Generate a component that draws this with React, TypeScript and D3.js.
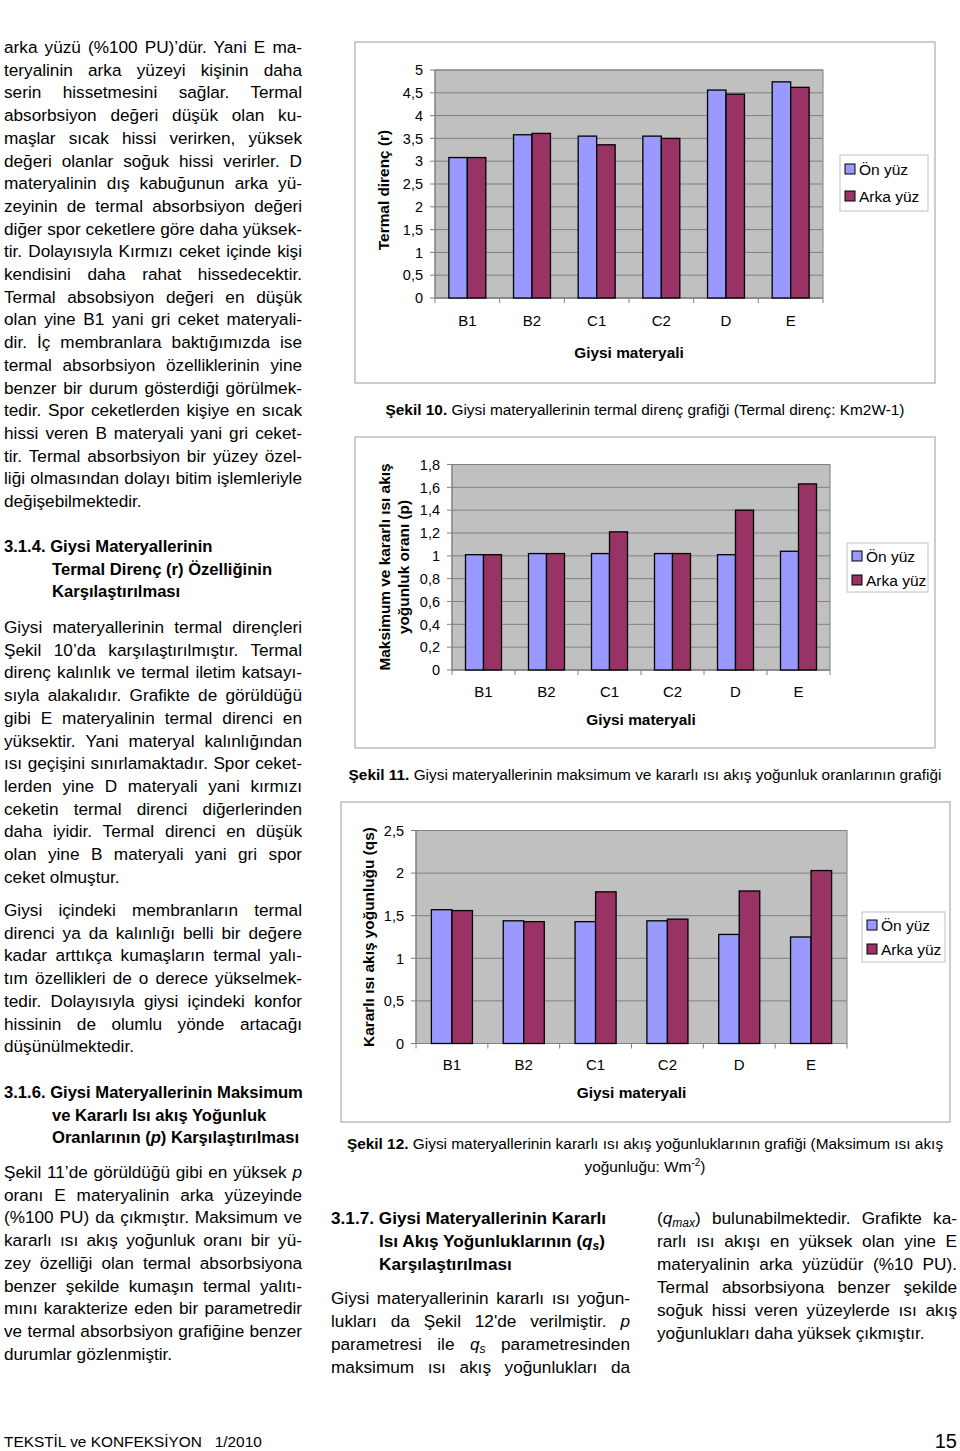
import React from "react";
import * as d3 from "d3";

// ---------- DATA ----------
const categories = ["B1", "B2", "C1", "C2", "D", "E"];
const seriesNames = ["Ön yüz", "Arka yüz"];
const seriesColors = ["#9999FF", "#993366"];

// Şekil 10 – Termal direnç (r)
const resistanceFront = [3.08, 3.58, 3.55, 3.55, 4.56, 4.74];
const resistanceBack = [3.08, 3.61, 3.36, 3.5, 4.47, 4.62];
const resistanceTicks = [0, 0.5, 1, 1.5, 2, 2.5, 3, 3.5, 4, 4.5, 5];
const resistanceTickLabels = ["0", "0,5", "1", "1,5", "2", "2,5", "3", "3,5", "4", "4,5", "5"];

// Şekil 11 – Maksimum ve kararlı ısı akış yoğunluk oranı (p)
const ratioFront = [1.01, 1.02, 1.02, 1.02, 1.01, 1.04];
const ratioBack = [1.01, 1.02, 1.21, 1.02, 1.4, 1.63];
const ratioTicks = [0, 0.2, 0.4, 0.6, 0.8, 1, 1.2, 1.4, 1.6, 1.8];
const ratioTickLabels = ["0", "0,2", "0,4", "0,6", "0,8", "1", "1,2", "1,4", "1,6", "1,8"];

// Şekil 12 – Kararlı ısı akış yoğunluğu (qs)
const fluxFront = [1.57, 1.44, 1.43, 1.44, 1.28, 1.25];
const fluxBack = [1.56, 1.43, 1.78, 1.46, 1.79, 2.03];
const fluxTicks = [0, 0.5, 1, 1.5, 2, 2.5];
const fluxTickLabels = ["0", "0,5", "1", "1,5", "2", "2,5"];

// ---------- TEXT ----------
const colA1 = [
  "arka yüzü (%100 PU)’dür. Yani E ma-",
  "teryalinin arka yüzeyi kişinin daha",
  "serin hissetmesini sağlar. Termal",
  "absorbsiyon değeri düşük olan ku-",
  "maşlar sıcak hissi verirken, yüksek",
  "değeri olanlar soğuk hissi verirler. D",
  "materyalinin dış kabuğunun arka yü-",
  "zeyinin de termal absorbsiyon değeri",
  "diğer spor ceketlere göre daha yüksek-",
  "tir. Dolayısıyla Kırmızı ceket içinde kişi",
  "kendisini daha rahat hissedecektir.",
  "Termal absobsiyon değeri en düşük",
  "olan yine B1 yani gri ceket materyali-",
  "dir. İç membranlara baktığımızda ise",
  "termal absorbsiyon özelliklerinin yine",
  "benzer bir durum gösterdiği görülmek-",
  "tedir. Spor ceketlerden kişiye en sıcak",
  "hissi veren B materyali yani gri ceket-",
  "tir. Termal absorbsiyon bir yüzey özel-",
  "liği olmasından dolayı bitim işlemleriyle",
  "değişebilmektedir.",
];
const head314 = ["3.1.4. Giysi Materyallerinin", "Termal Direnç (r) Özelliğinin", "Karşılaştırılması"];
const colA2 = [
  "Giysi materyallerinin termal dirençleri",
  "Şekil 10’da karşılaştırılmıştır. Termal",
  "direnç kalınlık ve termal iletim katsayı-",
  "sıyla alakalıdır. Grafikte de görüldüğü",
  "gibi E materyalinin termal direnci en",
  "yüksektir. Yani materyal kalınlığından",
  "ısı geçişini sınırlamaktadır. Spor ceket-",
  "lerden yine D materyali yani kırmızı",
  "ceketin termal direnci diğerlerinden",
  "daha iyidir. Termal direnci en düşük",
  "olan yine B materyali yani gri spor",
  "ceket olmuştur.",
];
const colA3 = [
  "Giysi içindeki membranların termal",
  "direnci ya da kalınlığı belli bir değere",
  "kadar arttıkça kumaşların termal yalı-",
  "tım özellikleri de o derece yükselmek-",
  "tedir. Dolayısıyla giysi içindeki konfor",
  "hissinin de olumlu yönde artacağı",
  "düşünülmektedir.",
];
const head316 = ["3.1.6. Giysi Materyallerinin Maksimum", "ve Kararlı Isı akış Yoğunluk", "Oranlarının ({i:p}) Karşılaştırılması"];
const colA4 = [
  "Şekil 11’de görüldüğü gibi en yüksek {i:p}",
  "oranı E materyalinin arka yüzeyinde",
  "(%100 PU) da çıkmıştır. Maksimum ve",
  "kararlı ısı akış yoğunluk oranı bir yü-",
  "zey özelliği olan termal absorbsiyona",
  "benzer şekilde kumaşın termal yalıtı-",
  "mını karakterize eden bir parametredir",
  "ve termal absorbsiyon grafiğine benzer",
  "durumlar gözlenmiştir.",
];
const head317 = ["3.1.7. Giysi Materyallerinin Kararlı", "Isı Akış Yoğunluklarının ({i:q}{sub:s})", "Karşılaştırılması"];
const colB1 = [
  "Giysi materyallerinin kararlı ısı yoğun-",
  "lukları da Şekil 12'de verilmiştir. {i:p}",
  "parametresi ile {i:q}{sub:s} parametresinden",
  "maksimum ısı akış yoğunlukları da",
];
const colC1 = [
  "({i:q}{sub:max}) bulunabilmektedir. Grafikte ka-",
  "rarlı ısı akışı en yüksek olan yine E",
  "materyalinin arka yüzüdür (%10 PU).",
  "Termal absorbsiyona benzer şekilde",
  "soğuk hissi veren yüzeylerde ısı akış",
  "yoğunlukları daha yüksek çıkmıştır.",
];

const FONT = "'Liberation Sans', Arial, Helvetica, sans-serif";

function renderMarkup(s: string) {
  const parts = s.split(/(\{(?:i|sub|sup|b):[^}]*\})/);
  return parts.map((p, i) => {
    const m = p.match(/^\{(i|sub|sup|b):([^}]*)\}$/);
    if (!m) return <React.Fragment key={i}>{p}</React.Fragment>;
    const [, kind, txt] = m;
    if (kind === "i") return <i key={i}>{txt}</i>;
    if (kind === "b") return <b key={i}>{txt}</b>;
    if (kind === "sub")
      return (
        <sub key={i} style={{ fontStyle: "italic", fontSize: "0.7em", verticalAlign: "-0.25em", lineHeight: 0 }}>
          {txt}
        </sub>
      );
    return (
      <sup key={i} style={{ fontSize: "0.7em", lineHeight: 0 }}>
        {txt}
      </sup>
    );
  });
}

function Para({ lines, x, y0, width, step = 22.7, lastLeft = true, bold = false, size = 17.2, indent = 0 }: any) {
  return (
    <>
      {lines.map((ln: string, i: number) => {
        const isLast = i === lines.length - 1;
        const justify = !(isLast && lastLeft) && width > 0;
        const left = x + (i > 0 ? indent : 0);
        return (
          <div
            key={i}
            style={{
              position: "absolute",
              left,
              top: y0 + i * step - 12,
              width: width > 0 ? width - (i > 0 ? indent : 0) : undefined,
              height: 24,
              lineHeight: "24px",
              fontFamily: FONT,
              fontSize: size,
              fontWeight: bold ? "bold" : "normal",
              textAlign: justify ? "justify" : "left",
              textAlignLast: justify ? "justify" : "left",
              whiteSpace: width > 0 ? "normal" : "nowrap",
              color: "#000",
            }}
          >
            {renderMarkup(ln)}
          </div>
        );
      })}
    </>
  );
}

type ChartProps = {
  frame: { x: number; y: number; w: number; h: number };
  plot: { l: number; r: number; t: number; b: number };
  max: number;
  ticks: number[];
  tickLabels: string[];
  front: number[];
  back: number[];
  yTitle: string[];
  yTitleX: number[];
  yTitleY: number;
  xTitleY: number;
  labelY: number;
  legend: { x: number; y: number; w: number; h: number; rows: number[] };
};

function BarChart(p: ChartProps) {
  const { frame, plot, legend } = p;
  const x0 = d3.scaleBand<string>().domain(categories).range([plot.l, plot.r]).padding(0);
  const x1 = d3
    .scaleBand<string>()
    .domain(seriesNames)
    .range([0, x0.bandwidth()])
    .paddingInner(0)
    .paddingOuter(0.75);
  const y = d3.scaleLinear().domain([0, p.max]).range([plot.b, plot.t]);
  const values = [p.front, p.back];
  const grid = "#808080";
  return (
    <g fontFamily={FONT}>
      <rect x={frame.x} y={frame.y} width={frame.w} height={frame.h} fill="#fff" stroke="#bdbdbd" strokeWidth={1.5} />
      <rect x={plot.l} y={plot.t} width={plot.r - plot.l} height={plot.b - plot.t} fill="#C0C0C0" stroke={grid} strokeWidth={1} />
      {p.ticks.map((t, i) => (
        <line key={"g" + i} x1={plot.l} x2={plot.r} y1={y(t)} y2={y(t)} stroke={grid} strokeWidth={1} />
      ))}
      {/* y axis */}
      <line x1={plot.l} x2={plot.l} y1={plot.t} y2={plot.b} stroke={grid} strokeWidth={1} />
      {p.ticks.map((t, i) => (
        <line key={"yt" + i} x1={plot.l - 5} x2={plot.l} y1={y(t)} y2={y(t)} stroke={grid} strokeWidth={1} />
      ))}
      {/* x axis */}
      <line x1={plot.l} x2={plot.r} y1={plot.b} y2={plot.b} stroke={grid} strokeWidth={1} />
      {d3.range(categories.length + 1).map((i) => {
        const xx = plot.l + i * x0.step();
        return <line key={"xt" + i} x1={xx} x2={xx} y1={plot.b} y2={plot.b + 5} stroke={grid} strokeWidth={1} />;
      })}
      {/* bars */}
      {categories.map((c, ci) =>
        seriesNames.map((s, si) => {
          const v = values[si][ci];
          return (
            <rect
              key={c + s}
              x={(x0(c) as number) + (x1(s) as number)}
              y={y(v)}
              width={x1.bandwidth()}
              height={plot.b - y(v)}
              fill={seriesColors[si]}
              stroke="#000"
              strokeWidth={1.3}
            />
          );
        })
      )}
      {/* tick labels */}
      {p.ticks.map((t, i) => (
        <text key={"yl" + i} x={plot.l - 12} y={y(t)} dy="0.36em" textAnchor="end" fontSize={14.5}>
          {p.tickLabels[i]}
        </text>
      ))}
      {categories.map((c) => (
        <text key={"xl" + c} x={(x0(c) as number) + x0.bandwidth() / 2} y={p.labelY} dy="0.36em" textAnchor="middle" fontSize={15}>
          {c}
        </text>
      ))}
      {/* titles */}
      <text x={(plot.l + plot.r) / 2} y={p.xTitleY} dy="0.36em" textAnchor="middle" fontSize={15.4} fontWeight="bold">
        Giysi materyali
      </text>
      {p.yTitle.map((t, i) => (
        <text
          key={"yt" + i}
          transform={`translate(${p.yTitleX[i]},${p.yTitleY}) rotate(-90)`}
          dy="0.36em"
          textAnchor="middle"
          fontSize={15.4}
          fontWeight="bold"
        >
          {t}
        </text>
      ))}
      {/* legend */}
      <rect x={legend.x} y={legend.y} width={legend.w} height={legend.h} fill="#fff" stroke="#c0c0c0" strokeWidth={1} />
      {seriesNames.map((s, i) => (
        <g key={"lg" + s}>
          <rect x={legend.x + 5} y={legend.rows[i] - 5} width={10} height={10} fill={seriesColors[i]} stroke="#000" strokeWidth={1} />
          <text x={legend.x + 19} y={legend.rows[i]} dy="0.36em" fontSize={15.5}>
            {s}
          </text>
        </g>
      ))}
    </g>
  );
}

export default function App() {
  return (
    <div
      style={{
        position: "absolute",
        left: 0,
        top: 0,
        width: 960,
        height: 1451,
        background: "#fff",
        overflow: "hidden",
      }}
    >
      <svg width={960} height={1451} style={{ position: "absolute", left: 0, top: 0 }}>
        <BarChart
          frame={{ x: 355, y: 42, w: 580, h: 341 }}
          plot={{ l: 435, r: 823, t: 70, b: 298 }}
          max={5}
          ticks={resistanceTicks}
          tickLabels={resistanceTickLabels}
          front={resistanceFront}
          back={resistanceBack}
          yTitle={["Termal direnç (r)"]}
          yTitleX={[383]}
          yTitleY={190}
          xTitleY={352}
          labelY={321}
          legend={{ x: 840, y: 155, w: 88, h: 56, rows: [169, 196] }}
        />
        <BarChart
          frame={{ x: 355, y: 437, w: 580, h: 311 }}
          plot={{ l: 452, r: 830, t: 464.5, b: 670 }}
          max={1.8}
          ticks={ratioTicks}
          tickLabels={ratioTickLabels}
          front={ratioFront}
          back={ratioBack}
          yTitle={["Maksimum ve kararlı ısı akış", "yoğunluk oranı (p)"]}
          yTitleX={[384, 403]}
          yTitleY={567}
          xTitleY={719}
          labelY={692}
          legend={{ x: 847, y: 543, w: 81, h: 49, rows: [556, 580] }}
        />
        <BarChart
          frame={{ x: 341, y: 802, w: 609, h: 320 }}
          plot={{ l: 416, r: 847, t: 830.5, b: 1043.5 }}
          max={2.5}
          ticks={fluxTicks}
          tickLabels={fluxTickLabels}
          front={fluxFront}
          back={fluxBack}
          yTitle={["Kararlı ısı akış yoğunluğu (qs)"]}
          yTitleX={[368]}
          yTitleY={937}
          xTitleY={1092}
          labelY={1065}
          legend={{ x: 862, y: 912, w: 83, h: 50, rows: [925, 949] }}
        />
        {/* captions */}
        <g fontFamily={FONT} fontSize={15.4}>
          <text x={645} y={409} dy="0.36em" textAnchor="middle">
            <tspan fontWeight="bold">Şekil 10.</tspan> Giysi materyallerinin termal direnç grafiği (Termal direnç: Km2W-1)
          </text>
          <text x={645} y={774} dy="0.36em" textAnchor="middle">
            <tspan fontWeight="bold">Şekil 11.</tspan> Giysi materyallerinin maksimum ve kararlı ısı akış yoğunluk oranlarının grafiği
          </text>
          <text x={645} y={1143} dy="0.36em" textAnchor="middle">
            <tspan fontWeight="bold">Şekil 12.</tspan> Giysi materyallerinin kararlı ısı akış yoğunluklarının grafiği (Maksimum ısı akış
          </text>
          <text x={645} y={1166} dy="0.36em" textAnchor="middle">
            yoğunluğu: Wm
            <tspan dy="-6" fontSize={10}>-2</tspan>
            <tspan dy="6">)</tspan>
          </text>
        </g>
        {/* footer */}
        <g fontFamily={FONT}>
          <text x={4} y={1441} dy="0.36em" fontSize={15.4} xmlSpace="preserve">
            TEKSTİL ve KONFEKSİYON   1/2010
          </text>
          <text x={957} y={1441} dy="0.36em" fontSize={20} textAnchor="end">
            15
          </text>
        </g>
      </svg>

      <Para lines={colA1} x={4} y0={47} width={298} />
      <Para lines={head314} x={4} y0={547} width={0} bold size={16.6} indent={48} lastLeft />
      <Para lines={colA2} x={4} y0={627} width={298} />
      <Para lines={colA3} x={4} y0={910} width={298} />
      <Para lines={head316} x={4} y0={1093} width={0} bold size={16.6} indent={48} lastLeft />
      <Para lines={colA4} x={4} y0={1172} width={298} />
      <Para lines={head317} x={331} y0={1218} width={0} bold indent={48} step={23} lastLeft />
      <Para lines={colB1} x={331} y0={1298} width={299} step={23} lastLeft={false} />
      <Para lines={colC1} x={657} y0={1218} width={300} step={23} />
    </div>
  );
}
